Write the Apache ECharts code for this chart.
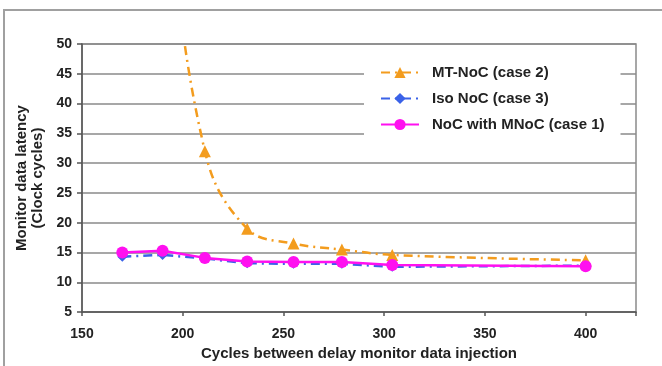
<!DOCTYPE html>
<html>
<head>
<meta charset="utf-8">
<script src="https://cdn.jsdelivr.net/npm/echarts@6/dist/echarts.min.js"></script>
<style>html,body{margin:0;padding:0;background:#fff;}#c{width:662px;height:366px;}</style>
</head>
<body>
<div id="c"></div>
<script>
var xValues = [170, 190, 211, 232, 255, 279, 304, 400];
var mtNoc = [130, 80, 32, 19, 16.5, 15.5, 14.6, 13.7];
var isoNoc = [14.3, 14.6, 14.0, 13.2, 13.1, 13.1, 12.6, 12.8];
var mnoc = [15.0, 15.3, 14.1, 13.5, 13.4, 13.4, 12.9, 12.7];
var seriesNames = ['MT-NoC (case 2)', 'Iso NoC (case 3)', 'NoC with MNoC (case 1)'];
var xAxisName = 'Cycles between delay monitor data injection';
var yAxisName = 'Monitor data latency\n(Clock cycles)';

function pairs(ys) { return xValues.map(function (x, i) { return [x, ys[i]]; }); }

var chart = echarts.init(document.getElementById('c'), null, { renderer: 'canvas' });
var font = 'Liberation Sans, Arial, sans-serif';
chart.setOption({
  animation: false,
  backgroundColor: '#fff',
  textStyle: { fontFamily: font },
  graphic: [{
    type: 'rect', silent: true, z: -1,
    shape: { x: 4, y: 10, width: 720, height: 420 },
    style: { fill: 'none', stroke: '#a0a0a0', lineWidth: 2 }
  }],
  grid: { left: 82, right: 26, top: 44, bottom: 52, show: true, borderColor: '#8a8a8a', borderWidth: 1.5, backgroundColor: 'transparent' },
  legend: {
    left: 364, top: 59, orient: 'vertical',
    backgroundColor: '#fff', padding: [6, 16, 6, 16],
    itemWidth: 38, itemHeight: 14, itemGap: 11,
    data: seriesNames,
    textStyle: { fontFamily: font, fontWeight: 'bold', fontSize: 15, color: '#222', padding: [0, 0, 0, 8] }
  },
  xAxis: {
    type: 'value', min: 150, max: 425, interval: 50,
    name: xAxisName, nameLocation: 'middle', nameGap: 33,
    nameTextStyle: { fontFamily: font, fontWeight: 'bold', fontSize: 15, color: '#222' },
    axisLine: { show: true, lineStyle: { color: '#555', width: 1.5 } },
    axisTick: { show: true, inside: false, length: 4, lineStyle: { color: '#555', width: 1.5 } },
    axisLabel: { fontFamily: font, fontWeight: 'bold', fontSize: 14, color: '#222', margin: 15,
      formatter: function (v) { return v > 400 ? '' : String(v); } },
    splitLine: { show: false }
  },
  yAxis: {
    type: 'value', min: 5, max: 50, interval: 5,
    name: yAxisName, nameLocation: 'middle', nameGap: 29, nameRotate: 90,
    nameTextStyle: { fontFamily: font, fontWeight: 'bold', fontSize: 15, color: '#222', lineHeight: 16 },
    axisLine: { show: true, lineStyle: { color: '#555', width: 1.5 } },
    axisTick: { show: true, inside: false, length: 5, lineStyle: { color: '#555', width: 1.5 } },
    axisLabel: { fontFamily: font, fontWeight: 'bold', fontSize: 14, color: '#222', margin: 10 },
    splitLine: { show: true, lineStyle: { color: '#8a8a8a', width: 1.5 } }
  },
  series: [
    {
      name: seriesNames[0], type: 'line', data: pairs(mtNoc), clip: true,
      smooth: 0.4, symbol: 'triangle', symbolSize: 12,
      itemStyle: { color: '#f39c1e' },
      lineStyle: { color: '#f39c1e', width: 2.5, type: [9, 5, 2, 5] }
    },
    {
      name: seriesNames[1], type: 'line', data: pairs(isoNoc), clip: true,
      symbol: 'diamond', symbolSize: 10,
      itemStyle: { color: '#3a62e8' },
      lineStyle: { color: '#3a62e8', width: 2.5, type: [9, 5, 2, 5] }
    },
    {
      name: seriesNames[2], type: 'line', data: pairs(mnoc), clip: true,
      symbol: 'circle', symbolSize: 12,
      itemStyle: { color: '#ff10f0' },
      lineStyle: { color: '#ff10f0', width: 2.5 }
    }
  ]
});
</script>
</body>
</html>
